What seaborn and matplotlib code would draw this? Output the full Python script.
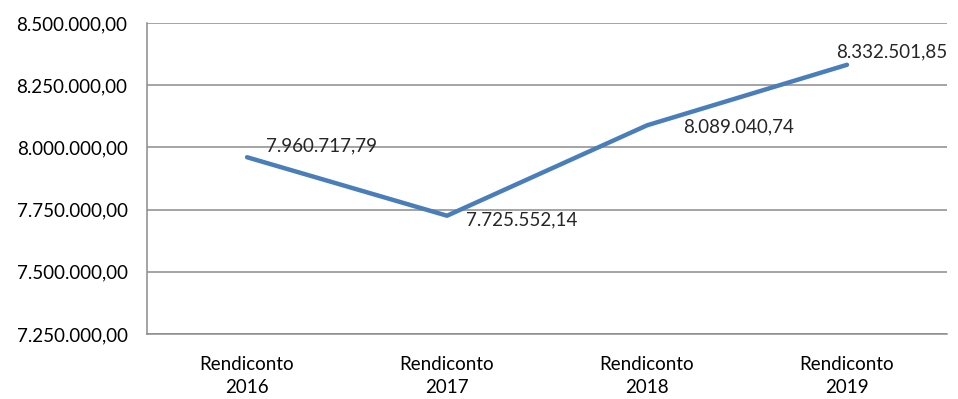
import numpy as np
import pandas as pd
import matplotlib
matplotlib.use("Agg")
import matplotlib.pyplot as plt
import seaborn as sns
from matplotlib.ticker import FuncFormatter

# ***** data ***** #
categories = ["Rendiconto\n2016", "Rendiconto\n2017", "Rendiconto\n2018", "Rendiconto\n2019"]
values = [7960717.79, 7725552.14, 8089040.74, 8332501.85]

df = pd.DataFrame({"x": np.arange(len(categories)), "valore": values})

sns.set_style("white")
plt.rcParams["font.family"] = ["Lato", "DejaVu Sans"]


def it_fmt(v, pos=None):
    s = f"{v:,.2f}"
    return s.replace(",", "X").replace(".", ",").replace("X", ".")


fig = plt.figure(figsize=(9.58, 3.99), dpi=100)
ax = fig.add_axes([0.1535, 0.163, 0.835, 0.779])

sns.lineplot(data=df, x="x", y="valore", ax=ax, color="#4a7ebb", linewidth=3.2)

ax.set_xlim(-0.5, 3.5)
ax.set_ylim(7250000, 8500000)
ax.set_yticks(np.arange(7250000, 8500001, 250000))
ax.yaxis.set_major_formatter(FuncFormatter(it_fmt))
ax.set_xticks(df["x"])
ax.set_xticklabels(categories, linespacing=1.45)
ax.tick_params(axis="both", labelsize=13.5, colors="#000000", length=0)
ax.tick_params(axis="y", pad=14)
ax.tick_params(axis="x", pad=16)
ax.set_xlabel("")
ax.set_ylabel("")

ax.grid(axis="y", color="#8c8c8c", linewidth=1.1)
for s in ["top", "right"]:
    ax.spines[s].set_visible(False)
ax.spines["bottom"].set_color("#8c8c8c")
ax.spines["left"].set_color("#8c8c8c")
ax.spines["bottom"].set_linewidth(1.1)
ax.spines["left"].set_linewidth(1.1)

# ***** data labels ***** #
offsets = [(14, 8), (14, -3), (26, -1), (-8, 9)]
for xi, v, off in zip(df["x"], values, offsets):
    ax.annotate(it_fmt(v), (xi, v), xytext=off, textcoords="offset points",
                ha="left", va="center", fontsize=13.5)

plt.savefig("out.png", dpi=100)
